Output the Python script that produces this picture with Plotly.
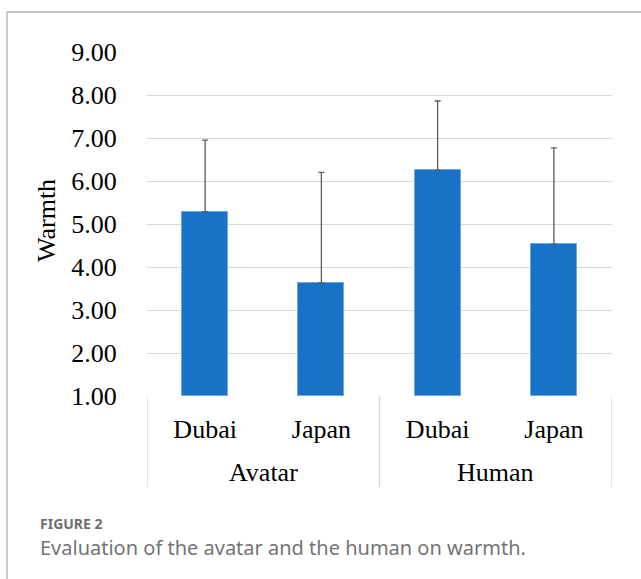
import plotly.graph_objects as go

groups = ["Avatar", "Avatar", "Human", "Human"]
subcats = ["Dubai", "Japan", "Dubai", "Japan"]
group_labels = ["Avatar", "Human"]
means = [5.29, 3.63, 6.25, 4.53]
err_plus = [1.66, 2.57, 1.61, 2.24]
y_ticks = [1, 2, 3, 4, 5, 6, 7, 8, 9]
y_ticktext = ["%.2f" % v for v in y_ticks]

W, H = 641, 579
L, R, T, B = 147, 29, 52, 183
pw, ph = W - L - R, H - T - B

def px_x(p):
    return (p - L) / pw

def px_y(p):
    return (H - B - p) / ph

xs = list(range(len(means)))

fig = go.Figure()
fig.add_trace(go.Bar(
    x=xs, y=[m - 1 for m in means], base=1,
    width=0.396,
    marker=dict(color="#1872C8", line=dict(color="#6FA8E0", width=1)),
    error_y=dict(type="data", symmetric=False, array=err_plus, arrayminus=[0]*4,
                 color="#5a5a5a", thickness=1.3, width=3),
    hoverinfo="skip",
))

serif = "Liberation Serif, Times New Roman, serif"

shapes = []
# group dividers
for xv in [-0.5, 1.5, 3.5]:
    shapes.append(dict(type="line", xref="x", yref="paper", x0=xv, x1=xv,
                       y0=0, y1=px_y(487), line=dict(color="#d9d9d9", width=1.3)))
# page border
shapes.append(dict(type="line", xref="paper", yref="paper", x0=px_x(7), x1=px_x(7),
                   y0=px_y(579), y1=px_y(12), line=dict(color="#b0b0b0", width=1.3)))
shapes.append(dict(type="line", xref="paper", yref="paper", x0=px_x(7), x1=px_x(641),
                   y0=px_y(12), y1=px_y(12), line=dict(color="#b0b0b0", width=1.3)))

annotations = []
for i, g in enumerate(group_labels):
    annotations.append(dict(x=2 * i + 0.5, y=px_y(472), xref="x", yref="paper",
                            text=g, showarrow=False, font=dict(family=serif, size=26, color="black"),
                            yanchor="middle"))
annotations.append(dict(x=px_x(46), y=px_y(221), xref="paper", yref="paper", text="Warmth",
                        textangle=-90, xanchor="center", yanchor="middle", showarrow=False,
                        font=dict(family=serif, size=26, color="black")))
annotations.append(dict(x=px_x(38), y=px_y(523), xref="paper", yref="paper", text="<b>FIGURE 2</b>",
                        xanchor="left", yanchor="middle", showarrow=False,
                        font=dict(family="Noto Sans", size=14, color="#6e6e6e")))
annotations.append(dict(x=px_x(38), y=px_y(547), xref="paper", yref="paper",
                        text="Evaluation of the avatar and the human on warmth.",
                        xanchor="left", yanchor="middle", showarrow=False,
                        font=dict(family="Noto Sans", size=20, color="#747474")))

fig.update_layout(
    width=W, height=H,
    margin=dict(l=L, r=R, t=T, b=B, pad=0),
    paper_bgcolor="white", plot_bgcolor="white",
    showlegend=False,
    bargap=0,
    shapes=shapes, annotations=annotations,
    xaxis=dict(range=[-0.5, 3.5], tickvals=xs, ticktext=subcats, showgrid=False,
               zeroline=False, showline=False, ticks="outside", ticklen=10, tickcolor="rgba(0,0,0,0)",
               tickfont=dict(family=serif, size=26, color="black"), fixedrange=True),
    yaxis=dict(range=[1, 9], tickvals=y_ticks, ticktext=y_ticktext, showgrid=True,
               gridcolor="#d9d9d9", gridwidth=1.3, zeroline=False, showline=False,
               ticks="outside", ticklen=24, tickcolor="rgba(0,0,0,0)",
               tickfont=dict(family=serif, size=26, color="black"), fixedrange=True),
)

fig.write_html("out.html", config={"displayModeBar": False},
               post_script="document.body.style.margin='0px';")
